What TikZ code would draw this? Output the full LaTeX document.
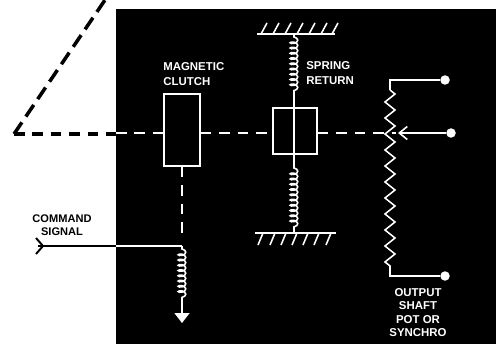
\documentclass[tikz,border=0pt]{standalone}
\usepackage{fontspec}
\setmainfont{Liberation Sans}
\usetikzlibrary{arrows.meta,calc,positioning,decorations.pathmorphing}

\begin{document}
\begin{tikzpicture}[x=0.02cm, y=-0.02cm, >=Stealth,
  tag/.style={font=\fontsize{6.5pt}{7pt}\selectfont\bfseries, inner sep=0pt},
  blockbox/.style={draw=white, line width=0.9pt, fill=black, inner sep=0pt},
  terminal/.style={circle, fill=white, inner sep=0pt, minimum size=0.19cm},
  wline/.style={draw=white, line width=0.9pt},
  wshaft/.style={draw=white, line width=1pt, dash pattern=on 6pt off 4.5pt},
  coilspring/.style={draw=white, line width=0.9pt, decorate,
    decoration={coil, amplitude=0.75mm, segment length=1.05mm, pre length=0.6mm, post length=0.6mm}}]

\useasboundingbox (0,0) rectangle (496,344);

% Panel
\fill[black] (116,9) rectangle (496,344);

% ============ Blocks ============
\node[blockbox, minimum width=0.72cm, minimum height=1.44cm] (clutch) at (182,130) {};
\node[blockbox, minimum width=0.88cm, minimum height=0.92cm] (retbox) at (295,131) {};

% Shaft, outside the panel
\coordinate (apex) at (14,134);
\coordinate (edge) at (116,134);
\coordinate (topend) at (105,0);
\draw[line width=2pt, dash pattern=on 6pt off 4.5pt] (apex) -- (edge);
\draw[line width=2pt, dash pattern=on 8pt off 4pt] (apex) -- (topend);

% Shaft, inside the panel
\coordinate (wipe) at (396,133);
\draw[wshaft] (116,133) -- (clutch.west |- wipe);
\draw[wshaft] (clutch.east |- wipe) -- (retbox.west |- wipe);
\draw[wshaft] (retbox.east |- wipe) -- (wipe);

% ============ Spring return ============
\coordinate (gndtop) at (294,34);
\coordinate (gndbot) at (294,233);
\coordinate (coiltop) at (294,96);
\coordinate (coilbot) at (294,165);
\draw[wline] (257,34) -- (335,34);
\draw[wline] (255,233) -- (336,233);
\foreach \x in {262,274,286,298,310,322,333}
  \draw[wline] (\x-1,34) -- ++(6,-11);
\foreach \x in {263,275,286,297,308,319,331}
  \draw[wline] (\x,233) -- ++(-5,12);
\draw[coilspring] (gndtop) -- (coiltop);
\draw[wline] (coiltop) -- (coilbot);
\draw[coilspring] (coilbot) -- (gndbot);

% ============ Command signal ============
\coordinate (cmdin) at (38,246);
\coordinate (cmdjoint) at (182,246);
\coordinate (cmdend) at (182,303);
\coordinate (cmdtip) at (182,323);
\draw[line width=1.1pt] (cmdin) -- (edge |- cmdin);
\draw[line width=1.1pt] (36,238) -- (43,246) -- (36,254);
\draw[wline] (edge |- cmdin) -- (cmdjoint);
\draw[wshaft] (clutch.south) -- (182,237);
\draw[coilspring] (cmdjoint) -- (cmdend);
\draw[wline, -{Stealth[length=2mm, width=3mm, inset=0pt]}] (cmdend) -- (cmdtip);

% ============ Output pot ============
\node[terminal] (termtop) at (445,80) {};
\node[terminal] (termmid) at (451,133) {};
\node[terminal] (termbot) at (445,276) {};
\coordinate (pottop) at (390,80);
\coordinate (potbot) at (390,276);
\draw[wline] (termtop) -- (pottop) -- (390,90);
\draw[wline, decorate, decoration={zigzag, amplitude=1mm, segment length=3.2mm}]
  (390,90) -- (390,266);
\draw[wline] (390,266) -- (potbot) -- (termbot);
\draw[wline, -{Straight Barb[length=1.6mm, width=2.6mm]}] (termmid) -- (398,133);

% ============ Labels ============
\node[tag, white, align=left, anchor=west] (clutchtag) at (163,74) {MAGNETIC\\[1.8pt]CLUTCH};
\node[tag, white, align=left, anchor=west] (springtag) at (306,73) {SPRING\\[1.8pt]RETURN};
\node[tag, white, align=center] (outtag) at (418,312.5) {OUTPUT\\[0.7pt]SHAFT\\[0.7pt]POT OR\\[0.7pt]SYNCHRO};
\node[tag, align=center, font=\fontsize{6.3pt}{7pt}\selectfont\bfseries] (cmdtag) at (62,225) {COMMAND\\[0.3pt]SIGNAL};

\end{tikzpicture}
\end{document}
